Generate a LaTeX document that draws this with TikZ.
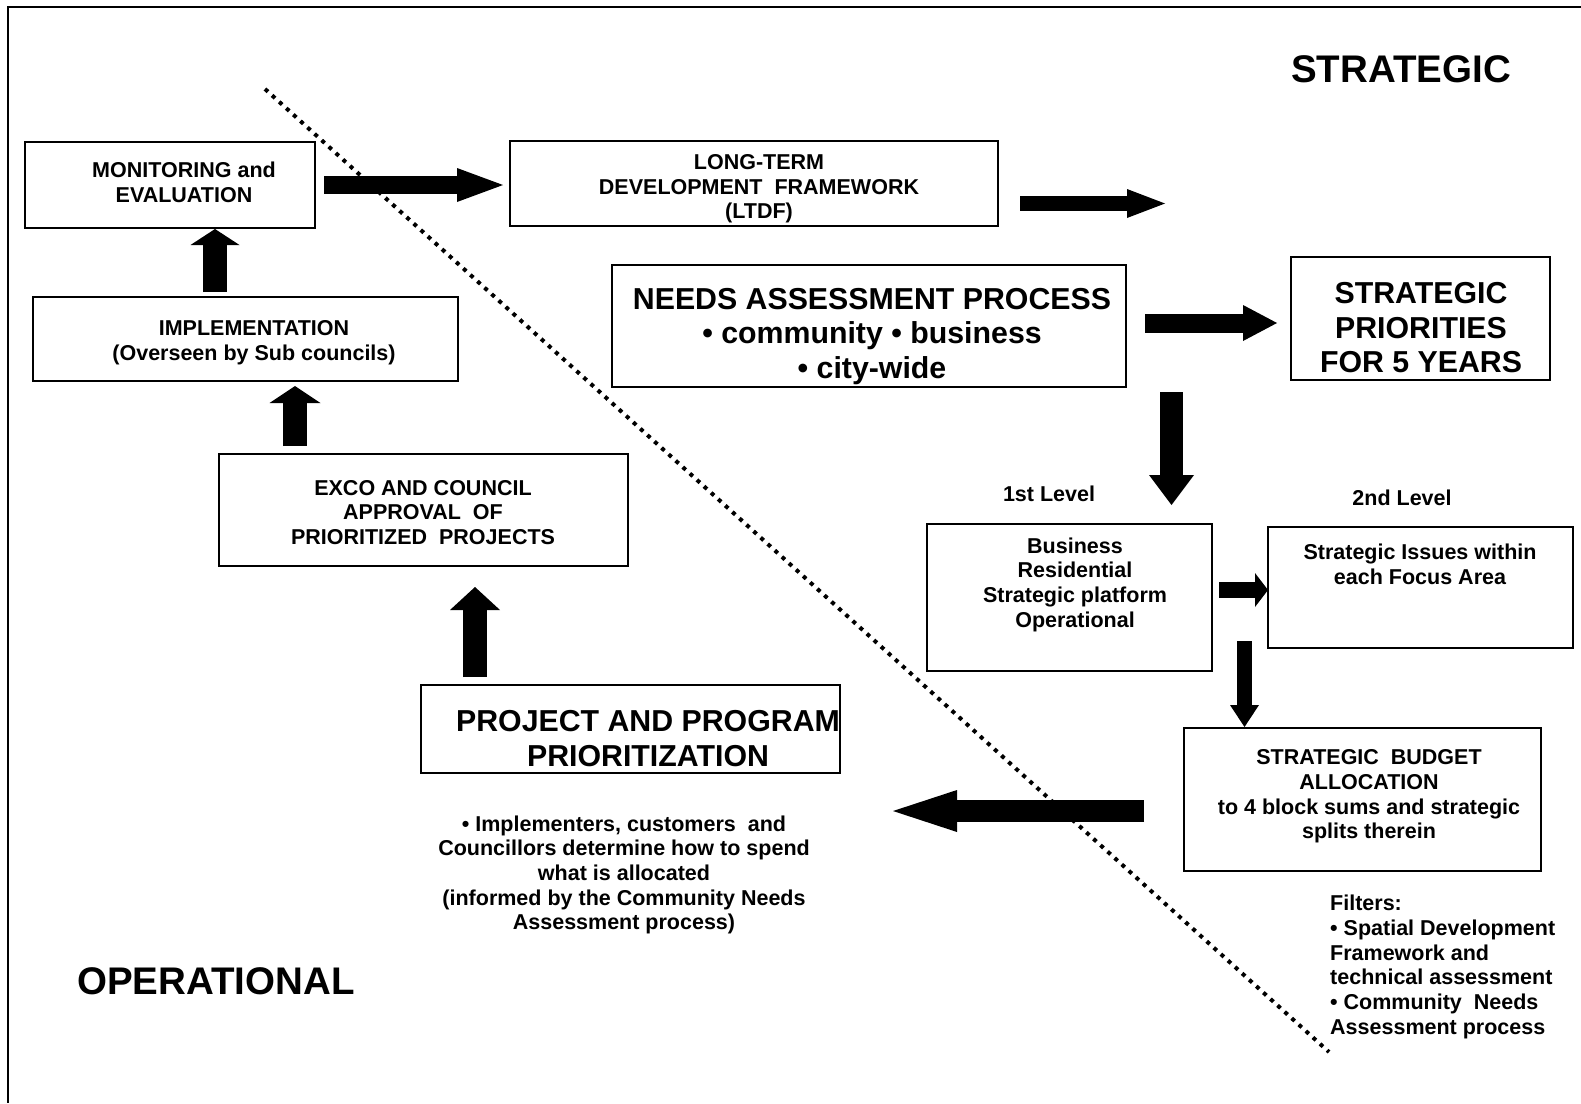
\documentclass[tikz,border=0pt]{standalone}
\usepackage{fontspec}
\setmainfont{Liberation Sans}
\usetikzlibrary{arrows.meta,calc}
% type sizes (1pt = 1 unit of the drawing)
\newcommand\fsS{\fontsize{21.5}{24.7}\selectfont\bfseries}
\newcommand\fsB{\fontsize{30.3}{34.5}\selectfont\bfseries}
\newcommand\fsH{\fontsize{38.5}{44}\selectfont\bfseries}
% framed box: name, centre x, centre y, width, height
\newcommand\boxat[5]{\node[box, minimum width=#4pt, minimum height=#5pt] (#1) at (#2,#3) {};}
\begin{document}
\begin{tikzpicture}[x=1pt,y=-1pt,
  box/.style={draw, line width=1.6pt, inner sep=0pt, outer sep=0pt, fill=white},
  lbl/.style={inner sep=0pt, align=center, font=\fsS},
  biglbl/.style={inner sep=0pt, align=center, font=\fsB},
  zone/.style={inner sep=0pt, font=\fsH},
  barrow/.style n args={3}{line width=#1, -{Triangle[length=#2, width=#3, line width=0pt]}},
  divider/.style={line width=4pt, dash pattern=on 4pt off 5.55pt},
]
\fill[white] (0,0) rectangle (1581,1103);
\useasboundingbox (0,0) rectangle (1581,1103);

% frame
\draw[line width=2.2pt] (1581,7) -- (8,7) -- (8,1103);

% strategic / operational divider
\coordinate (divTop) at (265,89);
\coordinate (divBot) at (1329,1052);
\draw[divider] (divTop) -- (divBot);

% boxes
\boxat{mon}{170}{185}{290}{86}
\boxat{ltdf}{754}{183.5}{488}{85}
\boxat{impl}{245.5}{339}{425}{84}
\boxat{exco}{423.5}{510}{409}{112}
\boxat{needs}{869}{326}{514}{122}
\boxat{sp}{1420.5}{318.5}{259}{123}
\boxat{lvlA}{1069.5}{597.5}{285}{147}
\boxat{lvlB}{1420.5}{587.5}{305}{121}
\boxat{bud}{1362.5}{799.5}{357}{143}
\boxat{proj}{630.5}{729}{419}{88}

% box texts
\node[lbl] (monT) at (184,182) {MONITORING and\\EVALUATION};
\node[lbl] (ltdfT) at (759,189) {LONG-TERM\\DEVELOPMENT~ FRAMEWORK\\(LTDF)};
\node[lbl] (implT) at (254,343) {IMPLEMENTATION\\(Overseen by Sub councils)};
\node[lbl] (excoT) at (423,512.5) {EXCO AND COUNCIL\\APPROVAL~ OF\\PRIORITIZED~ PROJECTS};
\node[biglbl] (needsT) at (872,336.5) {NEEDS ASSESSMENT PROCESS\\• community • business\\• city-wide};
\node[biglbl] (spT) at (1421,328) {STRATEGIC\\PRIORITIES\\FOR 5 YEARS};
\node[lbl] (l1T) at (1075,584.5) {Business\\Residential\\Strategic platform\\Operational};
\node[lbl] (l2T) at (1420,564.5) {Strategic Issues within\\each Focus Area};
\node[lbl] (budT) at (1369,796.5) {STRATEGIC~ BUDGET\\ALLOCATION\\to 4 block sums and strategic\\splits therein};
\node[biglbl] (projT) at (648,738.5) {PROJECT AND PROGRAM\\PRIORITIZATION};

% free labels
\node[lbl] (lvl1T) at (1049,494) {1st Level};
\node[lbl] (lvl2T) at (1402,498) {2nd Level};
\node[lbl] (descT) at (624,875) {• Implementers, customers~ and\\Councillors determine how to spend\\what is allocated\\(informed by the Community Needs\\Assessment process)};
\node[lbl, align=left, anchor=west] (filtT) at (1330,967) {Filters:\\• Spatial Development\\Framework and\\technical assessment\\• Community~ Needs\\Assessment process};
\node[zone] (stratT) at (1401,69) {STRATEGIC};
\node[zone] (opT) at (216,981) {OPERATIONAL};

% block arrows: start points hang off the boxes, ends are kept axis-aligned
\coordinate (a1) at ($(mon.east)+(9,0)$);
\coordinate (a2) at ($(ltdf.east)+(22,20)$);
\coordinate (ltdfOut) at ($(a2)+(145,0)$);
\coordinate (a3) at ($(needs.east)+(19,-3)$);
\coordinate (a4) at ($(needs.south east)+(45.5,5)$);
\coordinate (a5) at ($(lvlA.east)+(7,-7.5)$);
\coordinate (a6) at ($(lvlA.south east)+(32.5,-30)$);
\coordinate (a7) at ($(bud.west)+(-40,11.5)$);
\coordinate (a8) at ($(proj.north west)+(54,-8)$);
\coordinate (a9) at ($(exco.north west)+(76,-8)$);
\coordinate (a10) at ($(impl.north west)+(182,-5)$);

\draw[barrow={18pt}{46pt}{34pt}] (a1) -- ($(ltdf.west|-a1)+(-7,0)$);
\draw[barrow={15pt}{38pt}{29pt}] (a2) -- (ltdfOut);
\draw[barrow={19pt}{34pt}{36pt}] (a3) -- ($(sp.west|-a3)+(-14,0)$);
\draw[barrow={23pt}{30pt}{45pt}] (a4) -- ($(a4|-lvlA.north)+(0,-19)$);
\draw[barrow={16pt}{13pt}{34pt}] (a5) -- (lvlB.west|-a5);
\draw[barrow={15pt}{22pt}{29pt}] (a6) -- ($(a6|-bud.north)+(0,-1)$);
\draw[barrow={22pt}{64pt}{42pt}] (a7) -- ($(proj.east|-a7)+(53,0)$);
\draw[barrow={24pt}{23pt}{50pt}] (a8) -- ($(a8|-exco.south)+(0,21)$);
\draw[barrow={24pt}{17pt}{51pt}] (a9) -- ($(a9|-impl.south)+(0,5)$);
\draw[barrow={24pt}{16pt}{49pt}] (a10) -- ($(a10|-mon.south)+(0,1)$);
\end{tikzpicture}
\end{document}
